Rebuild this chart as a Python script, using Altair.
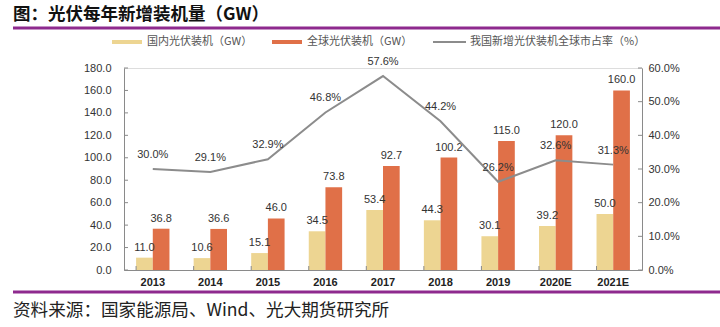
import altair as alt
import pandas as pd

# ---------------- data ----------------
years = ["2013", "2014", "2015", "2016", "2017", "2018", "2019", "2020E", "2021E"]
domestic = [11.0, 10.6, 15.1, 34.5, 53.4, 44.3, 30.1, 39.2, 50.0]
global_total = [36.8, 36.6, 46.0, 73.8, 92.7, 100.2, 115.0, 120.0, 160.0]
share_pct = [30.0, 29.1, 32.9, 46.8, 57.6, 44.2, 26.2, 32.6, 31.3]
series_names = ["国内光伏装机（GW）", "全球光伏装机（GW）"]
line_name = "我国新增光伏装机全球市占率（%）"
left_ticks = [0, 20, 40, 60, 80, 100, 120, 140, 160, 180]
right_ticks = [0.0, 0.1, 0.2, 0.3, 0.4, 0.5, 0.6]
title_text = "图：光伏每年新增装机量（GW）"
source_text = "资料来源：国家能源局、Wind、光大期货研究所"

# ---------------- tables ----------------
bars_df = pd.DataFrame(
    [{"year": y, "series": series_names[0], "value": v} for y, v in zip(years, domestic)]
    + [{"year": y, "series": series_names[1], "value": v} for y, v in zip(years, global_total)]
)
line_df = pd.DataFrame({"year": years, "share": [s / 100 for s in share_pct]})
lt_df = pd.DataFrame({"v": left_ticks})
rt_df = pd.DataFrame({"v": right_ticks})
yr_df = pd.DataFrame({"year": years})
one = pd.DataFrame({"a": [0]})

# ---------------- styles ----------------
W, H = 518, 202
CJK = "Noto Sans CJK SC"
NUM = "Liberation Sans"
AXIS_C = "#8a8a8a"
YELLOW = "#EDD592"
ORANGE = "#E07048"
GRAY = "#8c8c8c"
PURPLE = "#8E2A8E"

x_scale = alt.Scale(domain=years, paddingInner=0.42, paddingOuter=0.21)
x_axis = alt.Axis(title=None, labelAngle=0, ticks=False, domainColor=AXIS_C,
                  labelFont=NUM, labelFontSize=11, labelColor="#222",
                  labelPadding=6, labelFontWeight="bold")
X = alt.X("year:N", sort=years, scale=x_scale, axis=x_axis)

yl_scale = alt.Scale(domain=[0, 180], nice=False)
yl_axis = alt.Axis(title=None, values=left_ticks, format=".1f", ticks=False,
                   domainColor=AXIS_C, labelFont=NUM, labelFontSize=11,
                   labelColor="#333", labelPadding=13, grid=False)
yr_scale = alt.Scale(domain=[0, 0.6], nice=False)
yr_axis = alt.Axis(title=None, values=right_ticks, format=".1%", ticks=False,
                   orient="right", domainColor=AXIS_C, labelFont=NUM,
                   labelFontSize=11, labelColor="#333", labelPadding=6, grid=False)

xoff = alt.XOffset("series:N", sort=series_names,
                   scale=alt.Scale(domain=series_names, paddingInner=0, paddingOuter=0))

# ---------------- left group (bars) ----------------
bars = alt.Chart(bars_df).mark_bar().encode(
    x=X,
    xOffset=xoff,
    y=alt.Y("value:Q", scale=yl_scale, axis=yl_axis),
    color=alt.Color("series:N", scale=alt.Scale(domain=series_names, range=[YELLOW, ORANGE]), legend=None),
)
bar_text = alt.Chart(bars_df).mark_text(dy=-10, baseline="middle", font=NUM,
                                        fontSize=11, color="#333").encode(
    x=X,
    xOffset=xoff,
    y=alt.Y("value:Q", scale=yl_scale, axis=yl_axis),
    text=alt.Text("value:Q", format=".1f"),
)
lticks = alt.Chart(lt_df).mark_rule(color=AXIS_C).encode(
    y=alt.Y("v:Q", scale=yl_scale, axis=yl_axis),
    x=alt.value(0), x2=alt.value(4),
)
xticks = alt.Chart(yr_df).mark_rule(color=AXIS_C).encode(
    x=alt.X("year:N", sort=years, scale=x_scale, axis=x_axis, bandPosition=0),
    y=alt.value(H), y2=alt.value(H - 4),
)
left = alt.layer(bars, bar_text, lticks, xticks)

# ---------------- right group (line) ----------------
line = alt.Chart(line_df).mark_line(color=GRAY, strokeWidth=2).encode(
    x=X,
    y=alt.Y("share:Q", scale=yr_scale, axis=yr_axis),
)
line_text = alt.Chart(line_df).mark_text(dy=-14, baseline="middle", font=NUM,
                                         fontSize=11, color="#333").encode(
    x=X,
    y=alt.Y("share:Q", scale=yr_scale, axis=yr_axis),
    text=alt.Text("share:Q", format=".1%"),
)
rticks = alt.Chart(rt_df).mark_rule(color=AXIS_C).encode(
    y=alt.Y("v:Q", scale=yr_scale, axis=yr_axis),
    x=alt.value(W - 4), x2=alt.value(W),
)
right = alt.layer(line, line_text, rticks)

# ---------------- decorations ----------------
def text_at(txt, x, y, **kw):
    return alt.Chart(pd.DataFrame({"t": [txt]})).mark_text(
        align="left", baseline="middle", **kw
    ).encode(x=alt.value(x), y=alt.value(y), text="t:N")

def hrule(x1, x2, y, color, width):
    return alt.Chart(one).mark_rule(color=color, strokeWidth=width).encode(
        x=alt.value(x1), x2=alt.value(x2), y=alt.value(y)
    )

deco = [
    text_at(title_text, -111, -53, font=CJK, fontSize=17.5, fontWeight="bold", color="#111"),
    hrule(-111, 596, -40, PURPLE, 3),
    hrule(-111, 596, 224, PURPLE, 3),
    text_at(source_text, -111, 243, font=CJK, fontSize=17.6, color="#222"),
]
legend_items = [
    (series_names[0], YELLOW, 4, -12, 18, 23),
    (series_names[1], ORANGE, 4, 148, 178, 183),
    (line_name, GRAY, 2, 309, 342, 346),
]
for label, col, sw, x1, x2, tx in legend_items:
    deco.append(hrule(x1, x2, -26, col, sw))
    deco.append(text_at(label, tx, -26, font=CJK, fontSize=11, color="#555"))

chart = alt.layer(left, right, *deco).resolve_scale(y="independent").properties(
    width=W,
    height=H,
    autosize=alt.AutoSizeParams(type="none"),
    padding={"left": 124, "top": 68, "right": 78, "bottom": 57},
).configure_view(stroke=None).configure(background="white")

chart.save("out.html", embed_options={"renderer": "svg", "actions": False})
